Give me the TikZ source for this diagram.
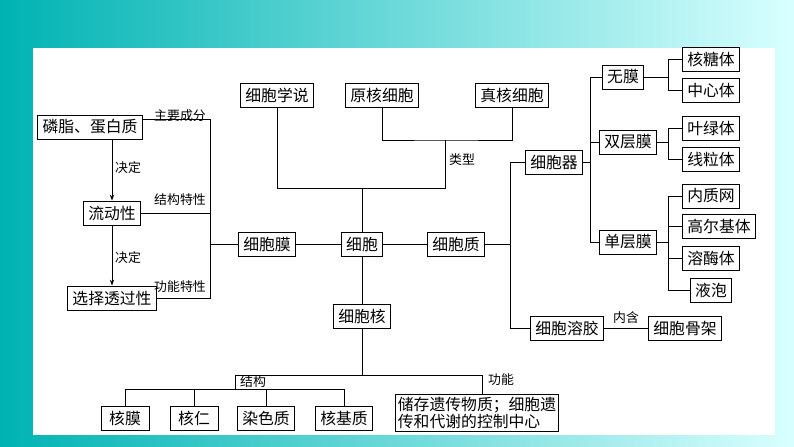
\documentclass[tikz,border=0pt]{standalone}
\usepackage{fontspec}
\setmainfont{Noto Sans CJK SC}
\usetikzlibrary{arrows.meta}
\tikzset{
  box/.style={draw,thick,inner xsep=4pt,inner ysep=2pt,font=\fontsize{13.5pt}{16pt}\selectfont,minimum height=0.72cm},
  lab/.style={font=\fontsize{11pt}{13pt}\selectfont,inner sep=1pt},
}
\begin{document}
\begin{tikzpicture}[x=0.03cm,y=-0.03cm,line width=0.5pt]
  \shade[left color=teal!60!cyan,right color=cyan!15] (0,0) rectangle (794,446);
  \fill[white] (33,48) rectangle (775,435);
  \useasboundingbox (0,0) rectangle (794,446);
  % top
  \node[box] (xs)  at (277,95)  {细胞学说};
  \node[box] (yh)  at (382,95)  {原核细胞};
  \node[box] (zh)  at (512,95)  {真核细胞};
  % left
  \node[box] (lz)  at (90,127)  {磷脂、蛋白质};
  \node[box] (ld)  at (112,213) {流动性};
  \node[box] (xz)  at (112,298) {选择透过性};
  % middle row
  \node[box] (xbm) at (267,244) {细胞膜};
  \node[box] (xb)  at (362,244) {细胞};
  \node[box] (xbz) at (456,244) {细胞质};
  \node[box] (xbh) at (362,316) {细胞核};
  % right
  \node[box] (xbq) at (554,162) {细胞器};
  \node[box] (xbr) at (567,328) {细胞溶胶};
  \node[box] (xbg) at (685,328) {细胞骨架};
  \node[box] (wm)  at (623,77)  {无膜};
  \node[box] (sc)  at (628,142) {双层膜};
  \node[box] (dc)  at (628,242) {单层膜};
  \node[box] (ht)  at (711,59)  {核糖体};
  \node[box] (zx)  at (711,90)  {中心体};
  \node[box] (yl)  at (711,128) {叶绿体};
  \node[box] (xl)  at (711,159) {线粒体};
  \node[box] (nz)  at (711,196) {内质网};
  \node[box] (ge)  at (719,226) {高尔基体};
  \node[box] (rm)  at (711,258) {溶酶体};
  \node[box] (yp)  at (711,290) {液泡};
  % bottom
  \node[box,inner xsep=7pt] (hm)  at (125,418) {核膜};
  \node[box,inner xsep=7pt] (hr)  at (194,418) {核仁};
  \node[box] (rs)  at (266,418) {染色质};
  \node[box] (hj)  at (344,418) {核基质};
  \node[box,align=left,inner sep=2pt,font=\fontsize{13.5pt}{15pt}\selectfont] (gn) at (477,413) {储存遗传物质；细胞遗\\传和代谢的控制中心};
  % top tree
  \draw (xs.south) |- (277,188) -| (xb.north);
  \draw (yh.south) |- (445,140) -| (zh.south);
  \draw (445,140) |- (362,188);
  \node[lab] at (462,160) {类型};
  % left bracket
  \draw (lz.east |- 0,119) -| (210,298) -- (xz.east |- 0,298);
  \draw (ld.east) -- (210,213);
  \draw (210,244) -- (xbm.west);
  \node[lab] at (180,116) {主要成分};
  \node[lab] at (180,200) {结构特性};
  \node[lab] at (180,287) {功能特性};
  \draw[-{Stealth[length=5pt]},thick] (lz.south -| ld) -- (ld.north);
  \draw[-{Stealth[length=5pt]},thick] (ld.south) -- (xz.north);
  \node[lab] at (128,168) {决定};
  \node[lab] at (128,258) {决定};
  % middle
  \draw (xbm) -- (xb) -- (xbz);
  \draw (xb) -- (xbh);
  \draw (xbz.east) -- (510,244);
  \draw (xbq.west) -| (510,328) -- (xbr.west);
  \draw (xbq.east) -- (590,162);
  \draw (wm.west) -| (590,242) -- (dc.west);
  \draw (sc.west) -- (590,142);
  \draw (ht.west) -| (668,90) -- (zx.west);
  \draw (wm.east) -- (668,77);
  \draw (yl.west) -| (668,159) -- (xl.west);
  \draw (sc.east) -- (668,142);
  \draw (nz.west) -| (668,290) -- (yp.west);
  \draw (ge.west) -- (668,226);
  \draw (rm.west) -- (668,258);
  \draw (dc.east) -- (668,242);
  \draw (xbr) -- (xbg);
  \node[lab] at (626,318) {内含};
  % bottom tree
  \draw (xbh.south) -- (362,375);
  \draw (235,389) |- (482,375) -- (gn.north -| 482,0);
  \draw (hm.north) |- (344,389) -- (hj.north);
  \draw (hr.north) -- (194,389);
  \draw (rs.north) -- (266,389);
  \node[lab] at (253,382) {结构};
  \node[lab] at (501,380) {功能};
\end{tikzpicture}
\end{document}
